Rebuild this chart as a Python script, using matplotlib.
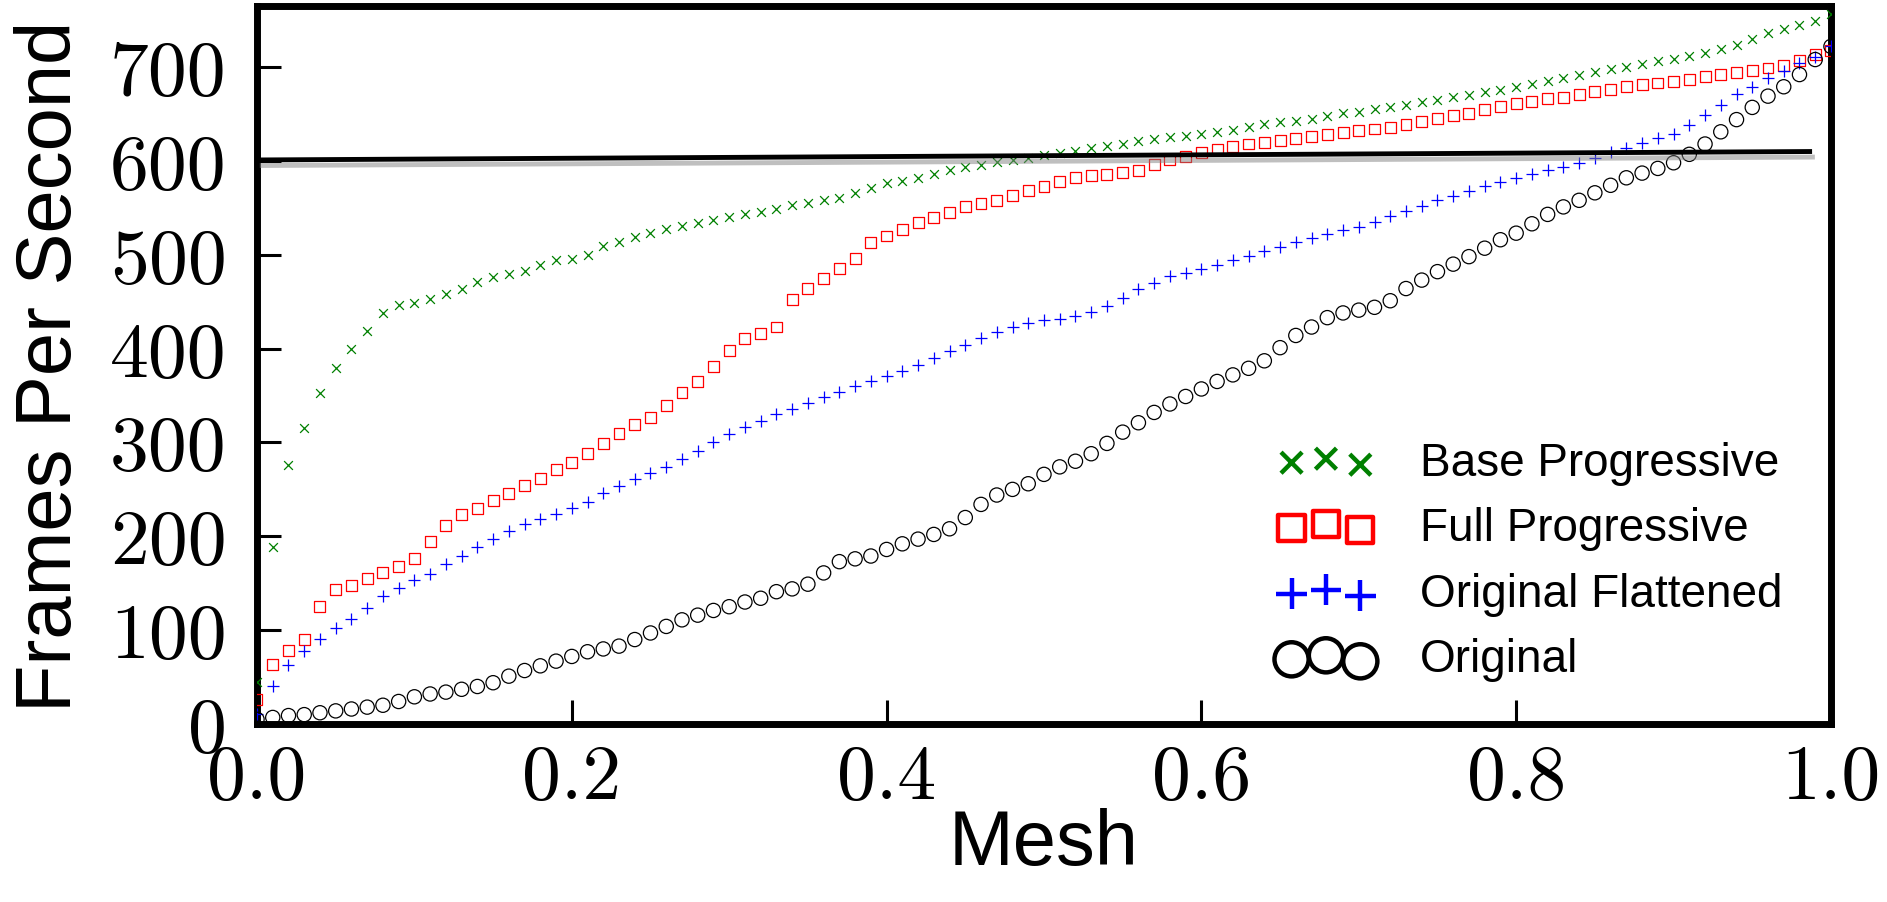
import numpy as np
import matplotlib
matplotlib.use("Agg")
import matplotlib.pyplot as plt
import matplotlib.patheffects as pe
from matplotlib.ticker import FormatStrFormatter

# sorted frames-per-second of each mesh, read at mesh fraction 0.00, 0.01, ..., 1.00
base_progressive = [
    45, 189, 276, 315, 353, 379, 400, 419, 438, 446,
    449, 453, 458, 464, 471, 476, 479, 483, 489, 494,
    496, 500, 509, 514, 519, 523, 527, 531, 534, 537,
    540, 543, 546, 549, 553, 555, 558, 561, 566, 571,
    576, 579, 582, 586, 590, 593, 596, 599, 601, 603,
    606, 608, 611, 614, 616, 618, 621, 623, 625, 627,
    629, 631, 633, 636, 639, 641, 642, 645, 648, 651,
    652, 655, 657, 660, 663, 665, 668, 670, 673, 676,
    679, 682, 685, 688, 691, 695, 698, 700, 703, 706,
    709, 712, 715, 719, 724, 730, 736, 741, 745, 749,
    757]
full_progressive = [
    26, 63, 78, 90, 125, 143, 148, 155, 161, 168,
    176, 194, 212, 223, 230, 238, 246, 254, 262, 271,
    279, 288, 299, 310, 319, 327, 339, 353, 365, 381,
    398, 411, 416, 423, 452, 464, 475, 485, 496, 513,
    520, 527, 534, 540, 545, 551, 555, 558, 563, 568,
    573, 578, 582, 584, 586, 588, 590, 596, 601, 605,
    609, 612, 615, 618, 620, 622, 624, 626, 628, 630,
    632, 634, 636, 639, 642, 645, 648, 651, 655, 658,
    661, 663, 666, 668, 671, 674, 676, 679, 681, 683,
    685, 687, 690, 692, 694, 696, 699, 702, 707, 713,
    718]
original_flattened = [
    11, 41, 63, 78, 91, 102, 112, 124, 136, 145,
    153, 160, 170, 179, 189, 197, 206, 213, 218, 224,
    230, 237, 246, 254, 261, 267, 274, 282, 291, 301,
    309, 316, 323, 330, 336, 342, 348, 354, 360, 366,
    371, 376, 383, 390, 397, 404, 411, 418, 423, 427,
    430, 432, 435, 439, 445, 454, 463, 470, 477, 481,
    485, 489, 494, 499, 504, 508, 514, 518, 522, 526,
    530, 535, 541, 547, 552, 558, 563, 568, 573, 578,
    582, 586, 590, 594, 598, 603, 609, 614, 619, 624,
    629, 638, 649, 660, 671, 679, 688, 696, 704, 711,
    722]
original = [
    5, 7, 9, 10, 12, 14, 16, 18, 20, 24,
    29, 32, 34, 37, 40, 44, 51, 57, 62, 67,
    72, 77, 80, 83, 90, 97, 104, 111, 116, 121,
    125, 130, 134, 141, 144, 149, 161, 173, 176, 179,
    186, 192, 197, 202, 208, 220, 234, 244, 250, 256,
    266, 274, 280, 288, 299, 311, 321, 332, 341, 349,
    357, 365, 372, 379, 387, 401, 414, 423, 433, 438,
    441, 444, 451, 464, 473, 482, 490, 498, 507, 516,
    523, 533, 543, 551, 558, 566, 574, 582, 587, 592,
    598, 607, 618, 631, 644, 657, 669, 679, 692, 708,
    722]

mesh = np.linspace(0.0, 1.0, len(original))

# 60 fps reference line
target_x = [0.0, 0.988]
target_y = [601, 610]

fig = plt.figure(figsize=(18.87, 9.03), dpi=100)
ax = fig.add_axes([0.1362, 0.1971, 0.9703 - 0.1362, 0.9922 - 0.1971])

ax.scatter(mesh, base_progressive, marker='x', s=40, linewidths=0.9,
           color='green', label='Base Progressive', zorder=3)
ax.scatter(mesh, full_progressive, marker='s', s=62, linewidths=0.9,
           facecolors='none', edgecolors='red', label='Full Progressive', zorder=3)
ax.scatter(mesh, original_flattened, marker='+', s=85, linewidths=0.9,
           color='blue', label='Original Flattened', zorder=3)
ax.scatter(mesh, original, marker='o', s=105, linewidths=0.9,
           facecolors='none', edgecolors='black', label='Original', zorder=3)

ax.plot(target_x, target_y, color='black', lw=3.5, solid_capstyle='butt', zorder=4,
        path_effects=[pe.SimpleLineShadow(offset=(2, -4), shadow_color='gray', alpha=0.5),
                      pe.Normal()])

ax.set_xlim(0, 1.0)
ax.set_ylim(0, 765)
ax.set_xticks(np.arange(0, 1.01, 0.2))
ax.set_yticks(np.arange(0, 701, 100))
ax.xaxis.set_major_formatter(FormatStrFormatter('%.1f'))

for sp in ax.spines.values():
    sp.set_linewidth(5)
ax.tick_params(direction='in', length=17, width=2.2, top=False, right=False,
               labelsize=56, pad=22, labelfontfamily='cmr10')
ax.tick_params(axis='x', pad=14)

ax.set_xlabel('Mesh', fontsize=56, family='Liberation Sans', labelpad=-4)
ax.set_ylabel('Frames Per Second', fontsize=56, family='Liberation Sans', labelpad=16)

leg = ax.legend(loc='center left', bbox_to_anchor=(0.634, 0.227), frameon=False,
                scatterpoints=3, markerscale=2.4, borderpad=0, handlelength=2.1,
                handletextpad=1.0, labelspacing=0.47,
                prop={'family': 'Liberation Sans', 'size': 33})
for h in leg.legend_handles:
    h.set_linewidths(3.2)

fig.savefig('out.png', dpi=100)
